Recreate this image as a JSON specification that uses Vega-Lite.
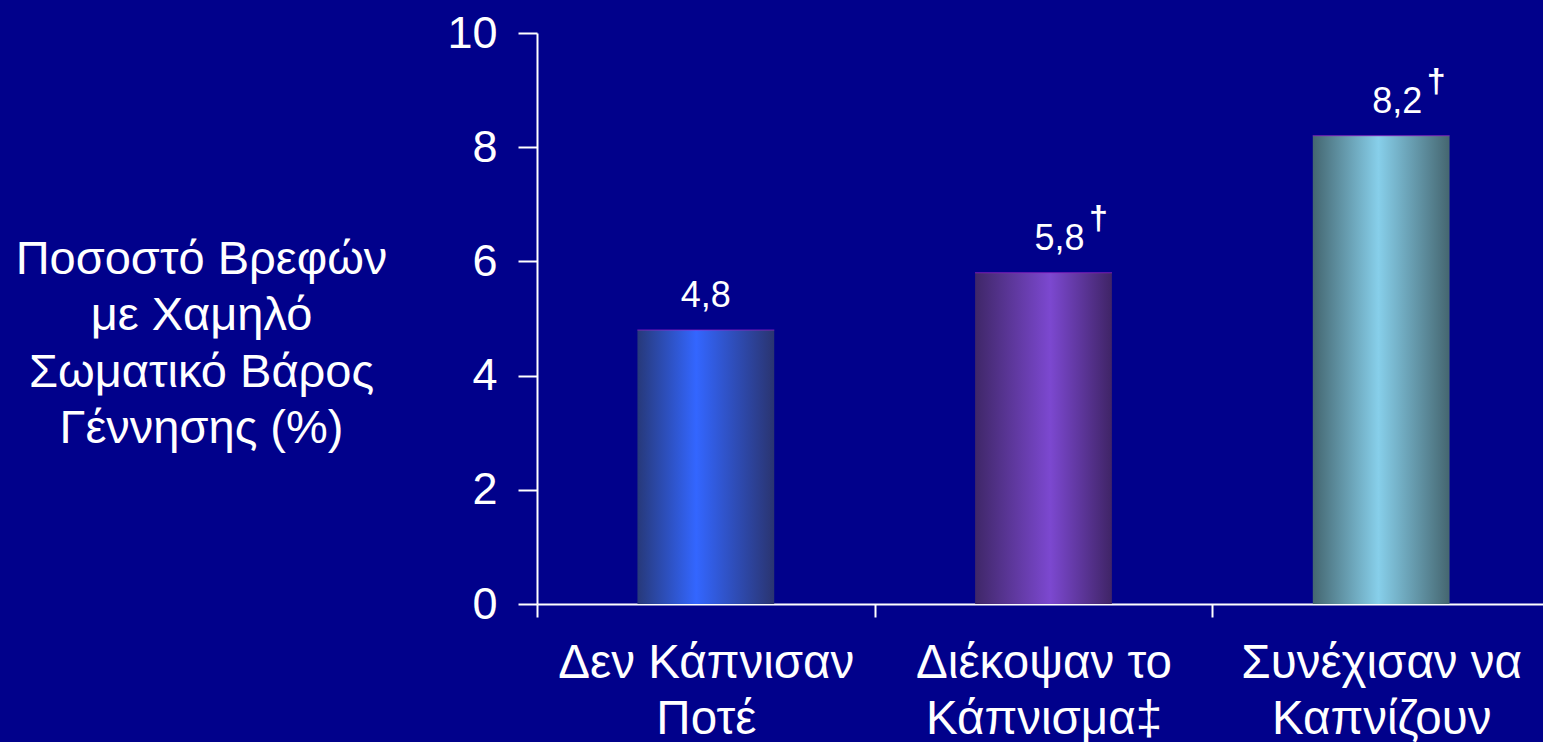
{
  "$schema": "https://vega.github.io/schema/vega-lite/v6.json",
  "width": 1006,
  "height": 571,
  "autosize": {"type": "none"},
  "padding": {"left": 537, "top": 33, "right": 0, "bottom": 138},
  "background": "#01018b",
  "config": {"view": {"stroke": null}, "font": "Liberation Sans"},
  "data": {
    "values": [
      {"group": "Δεν Κάπνισαν|Ποτέ", "value": 4.8, "label": "4,8", "note": ""},
      {"group": "Διέκοψαν το|Κάπνισμα‡", "value": 5.8, "label": "5,8", "note": "†"},
      {"group": "Συνέχισαν να|Καπνίζουν", "value": 8.2, "label": "8,2", "note": "†"}
    ]
  },
  "encoding": {
    "x": {
      "field": "group",
      "type": "nominal",
      "sort": null,
      "scale": {"paddingInner": 0, "paddingOuter": 0, "range": [0, 1013]},
      "axis": {
        "title": null,
        "labelExpr": "split(datum.label, '|')",
        "labelFont": "Liberation Sans",
        "labelFontSize": 47.5,
        "labelColor": "white",
        "labelLineHeight": 56,
        "labelPadding": 22,
        "labelLimit": 0,
        "labelAngle": 0,
        "labelBaseline": "top",
        "labelOverlap": false,
        "tickBand": "extent",
        "tickSize": 13,
        "tickColor": "white",
        "tickWidth": 2,
        "domainColor": "white",
        "domainWidth": 2
      }
    },
    "y": {
      "field": "value",
      "type": "quantitative",
      "scale": {"domain": [0, 10]},
      "axis": {
        "title": ["Ποσοστό Βρεφών", "με Χαμηλό", "Σωματικό Βάρος", "Γέννησης (%)"],
        "titleAngle": 0,
        "titleAlign": "center",
        "titleBaseline": "alphabetic",
        "titleX": -336,
        "titleY": 240,
        "titleFont": "Liberation Sans",
        "titleFontSize": 47,
        "titleFontWeight": "normal",
        "titleColor": "white",
        "titleLineHeight": 56.5,
        "titleLimit": 0,
        "values": [0, 2, 4, 6, 8, 10],
        "labelFont": "Liberation Sans",
        "labelFontSize": 45,
        "labelColor": "white",
        "labelPadding": 21,
        "tickSize": 19,
        "tickColor": "white",
        "tickWidth": 2,
        "domainColor": "white",
        "domainWidth": 2,
        "grid": false
      }
    }
  },
  "layer": [
    {
      "transform": [{"filter": "datum.value == 4.8"}],
      "mark": {
        "type": "bar",
        "width": {"band": 0.405},
        "color": {
          "gradient": "linear", "x1": 0, "x2": 1, "y1": 0, "y2": 0,
          "stops": [
            {"offset": 0, "color": "#27397a"},
            {"offset": 0.43, "color": "#3366ff"},
            {"offset": 1, "color": "#2a3470"}
          ]
        }
      }
    },
    {
      "transform": [{"filter": "datum.value == 5.8"}],
      "mark": {
        "type": "bar",
        "width": {"band": 0.405},
        "color": {
          "gradient": "linear", "x1": 0, "x2": 1, "y1": 0, "y2": 0,
          "stops": [
            {"offset": 0, "color": "#3f2768"},
            {"offset": 0.55, "color": "#7c48d0"},
            {"offset": 1, "color": "#3f2466"}
          ]
        }
      }
    },
    {
      "transform": [{"filter": "datum.value == 8.2"}],
      "mark": {
        "type": "bar",
        "width": {"band": 0.405},
        "color": {
          "gradient": "linear", "x1": 0, "x2": 1, "y1": 0, "y2": 0,
          "stops": [
            {"offset": 0, "color": "#446670"},
            {"offset": 0.48, "color": "#87cfea"},
            {"offset": 1, "color": "#456670"}
          ]
        }
      }
    },
    {
      "mark": {"type": "tick", "orient": "horizontal", "size": 137, "thickness": 1, "color": "#a020c8"}
    },
    {
      "transform": [{"filter": "datum.note == ''"}],
      "mark": {"type": "text", "dy": -23, "baseline": "alphabetic", "fontSize": 36, "color": "white", "font": "Liberation Sans"},
      "encoding": {"text": {"field": "label"}}
    },
    {
      "transform": [{"filter": "datum.note != ''"}],
      "mark": {"type": "text", "dx": 16, "dy": -23, "baseline": "alphabetic", "fontSize": 36, "color": "white", "font": "Liberation Sans"},
      "encoding": {"text": {"field": "label"}}
    },
    {
      "transform": [{"filter": "datum.note != ''"}],
      "mark": {"type": "text", "dx": 55, "dy": -44, "baseline": "alphabetic", "fontSize": 34, "fontWeight": "bold", "color": "white", "font": "Liberation Sans"},
      "encoding": {"text": {"field": "note"}}
    }
  ]
}
